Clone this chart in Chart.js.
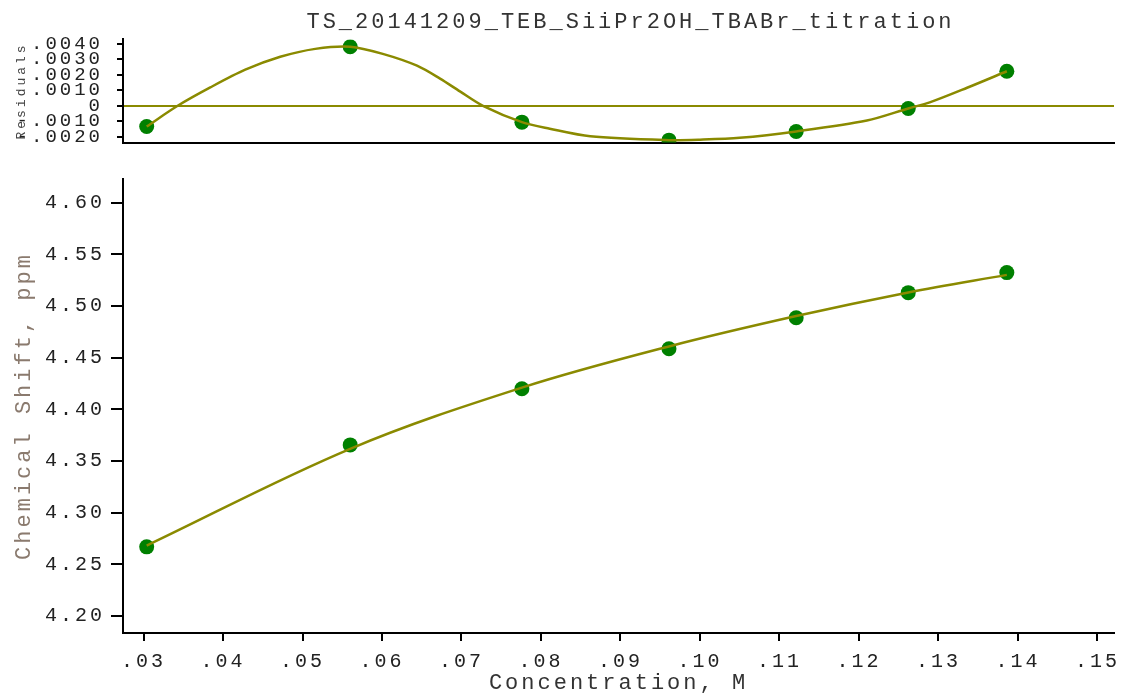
<!DOCTYPE html>
<html><head><meta charset="utf-8">
<script src="https://cdn.jsdelivr.net/npm/chart.js@4"></script>
<style>
html,body{margin:0;padding:0;background:#fff;}
#wrap{position:relative;width:1127px;height:693px;overflow:hidden;}
#top{position:absolute;left:0;top:0;}
#bot{position:absolute;left:0;top:150px;}
</style></head><body>
<div id="wrap"><canvas id="top" width="1127" height="150"></canvas><canvas id="bot" width="1127" height="543"></canvas></div>
<script>
const chartTitle = 'TS_20141209_TEB_SiiPr2OH_TBABr_titration';
const xTitle = 'Concentration, M';
const shiftTitle = 'Chemical Shift, ppm';
const residTitle = 'Residuals';

const concentration = [0.0304, 0.0560, 0.0776, 0.0961, 0.1121, 0.1262, 0.1386];
const chemicalShift = [4.2669, 4.3656, 4.4199, 4.4587, 4.4887, 4.5130, 4.5324];
const fitShift      = [4.2682, 4.3618, 4.4210, 4.4609, 4.4903, 4.5132, 4.5302];
const residuals     = [-0.00133, 0.00380, -0.00105, -0.00221, -0.00165, -0.00017, 0.00222];

const residCurveX = [0.0304, 0.0343, 0.0384, 0.0428, 0.0472, 0.0516, 0.0560, 0.0601, 0.0644, 0.0673, 0.0698, 0.0727, 0.0776, 0.0811, 0.0862, 0.0961, 0.1000, 0.1050, 0.1121, 0.1210, 0.1262, 0.1289, 0.1336, 0.1386];
const residCurveY = [-0.00133, 0.0, 0.00118, 0.00232, 0.00315, 0.00366, 0.00380, 0.00334, 0.00258, 0.00175, 0.00093, 0.0, -0.00105, -0.00147, -0.00196, -0.00221, -0.00218, -0.00206, -0.00165, -0.00095, -0.00017, 0.00022, 0.00116, 0.00222];

const xTicks = [0.03, 0.04, 0.05, 0.06, 0.07, 0.08, 0.09, 0.10, 0.11, 0.12, 0.13, 0.14, 0.15];
const xTickLabels = ['.03', '.04', '.05', '.06', '.07', '.08', '.09', '.10', '.11', '.12', '.13', '.14', '.15'];
const shiftTicks = [4.20, 4.25, 4.30, 4.35, 4.40, 4.45, 4.50, 4.55, 4.60];
const shiftTickLabels = ['4.20', '4.25', '4.30', '4.35', '4.40', '4.45', '4.50', '4.55', '4.60'];
const residTicks = [-0.002, -0.001, 0, 0.001, 0.002, 0.003, 0.004];
const residTickLabels = ['-.0020', '-.0010', '0', '.0010', '.0020', '.0030', '.0040'];

const xMin = 0.02742, xMax = 0.15208;
const shiftMin = 4.1835, shiftMax = 4.623;
const residMin = -0.00236, residMax = 0.00427;

const FONT = "'Liberation Mono', 'Courier New', monospace";
const OLIVE = '#8a8a00';
const GREEN = '#008000';

const spacing = { id: 'spacing', beforeDraw(chart) { chart.ctx.letterSpacing = '3px'; } };
const titleShift = { id: 'titleShift', afterLayout(chart) { const t = chart.titleBlock; if (t) { t.left += 12; t.right += 12; } } };

function pts(xs, ys) { return xs.map((x, i) => ({ x: x, y: ys[i] })); }
function noPad(s) { s.paddingTop = 0; s.paddingBottom = 0; s.paddingLeft = 0; s.paddingRight = 0; }

Chart.defaults.font.family = FONT;
Chart.defaults.color = '#222';

new Chart(document.getElementById('top'), {
  type: 'scatter',
  data: {
    datasets: [
      { data: pts(residCurveX, residCurveY), showLine: true, borderColor: OLIVE, borderWidth: 2.5, pointRadius: 0, tension: 0.3, fill: false, order: 0 },
      { data: pts(concentration, residuals), backgroundColor: GREEN, borderWidth: 0, pointRadius: 7.5, order: 1 }
    ]
  },
  options: {
    responsive: false, animation: false, devicePixelRatio: 1,
    layout: { padding: { top: 0, right: 13, bottom: 6, left: 0 } },
    plugins: {
      legend: { display: false }, tooltip: { enabled: false },
      title: { display: true, text: chartTitle, fullSize: false, color: '#333', font: { size: 22, weight: 'normal', lineHeight: 1.2 }, padding: { top: 9, bottom: 4 } }
    },
    scales: {
      x: {
        type: 'linear', min: xMin, max: xMax,
        ticks: { display: false },
        grid: { display: false, drawTicks: false },
        border: { display: true, color: '#000', width: 2 },
        afterFit(s) { s.height = 0; noPad(s); }
      },
      y: {
        type: 'linear', min: residMin, max: residMax,
        afterBuildTicks(s) { s.ticks = residTicks.map(v => ({ value: v })); },
        ticks: { callback: (v, i) => residTickLabels[i], font: { size: 19 }, color: '#222', padding: 14, autoSkip: false },
        grid: { drawOnChartArea: true, color: c => (c.tick && c.tick.value === 0 ? OLIVE : 'rgba(0,0,0,0)'), tickColor: '#000', lineWidth: 2, tickLength: 6 },
        border: { display: true, color: '#000', width: 2 },
        title: { display: true, text: residTitle, color: '#444', font: { size: 13 }, padding: { top: 14, bottom: 0 } },
        afterFit(s) { s.width = 123; noPad(s); }
      }
    }
  },
  plugins: [spacing, titleShift]
});

new Chart(document.getElementById('bot'), {
  type: 'scatter',
  data: {
    datasets: [
      { data: pts(concentration, fitShift), showLine: true, borderColor: OLIVE, borderWidth: 2.5, pointRadius: 0, tension: 0.35, fill: false, order: 0 },
      { data: pts(concentration, chemicalShift), backgroundColor: GREEN, borderWidth: 0, pointRadius: 7.5, order: 1 }
    ]
  },
  options: {
    responsive: false, animation: false, devicePixelRatio: 1,
    layout: { padding: { top: 29, right: 13, bottom: 0, left: 0 } },
    plugins: { legend: { display: false }, tooltip: { enabled: false } },
    scales: {
      x: {
        type: 'linear', min: xMin, max: xMax,
        afterBuildTicks(s) { s.ticks = xTicks.map(v => ({ value: v })); },
        ticks: { callback: (v, i) => xTickLabels[i], font: { size: 20 }, color: '#222', padding: 9, maxRotation: 0, autoSkip: false },
        grid: { drawOnChartArea: false, color: '#000', lineWidth: 2, tickLength: 8 },
        border: { display: true, color: '#000', width: 2 },
        title: { display: true, text: xTitle, color: '#333', font: { size: 22, lineHeight: 0.9 }, padding: { top: 0, bottom: 0 } },
        afterFit(s) { s.height = 60; noPad(s); }
      },
      y: {
        type: 'linear', min: shiftMin, max: shiftMax,
        afterBuildTicks(s) { s.ticks = shiftTicks.map(v => ({ value: v })); },
        ticks: { callback: (v, i) => shiftTickLabels[i], font: { size: 20 }, color: '#222', padding: 6, autoSkip: false },
        grid: { drawOnChartArea: false, color: '#000', lineWidth: 2, tickLength: 12 },
        border: { display: true, color: '#000', width: 2 },
        title: { display: true, text: shiftTitle, color: '#8a7a6e', font: { size: 22, lineHeight: 1.2 }, padding: { top: 11, bottom: 0 } },
        afterFit(s) { s.width = 123; noPad(s); }
      }
    }
  },
  plugins: [spacing]
});
</script>
</body></html>
